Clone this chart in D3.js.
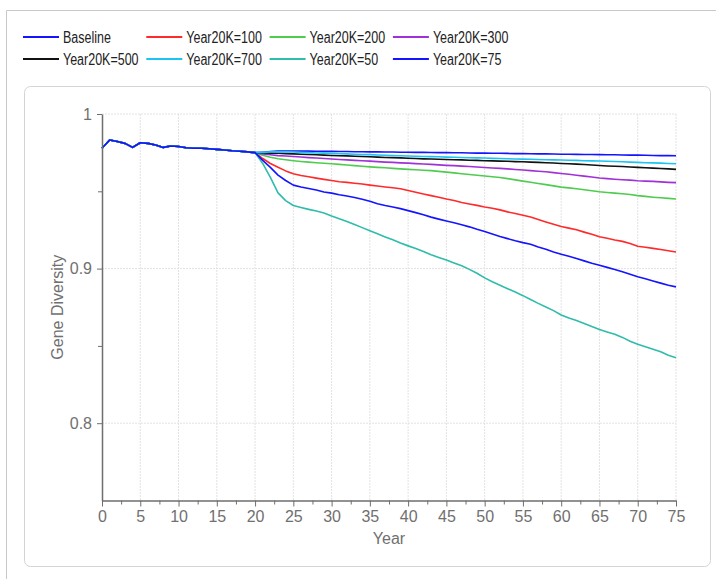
<!DOCTYPE html>
<html>
<head>
<meta charset="utf-8">
<script src="https://cdn.jsdelivr.net/npm/d3@7"></script>
<style>
  body { margin: 0; background: #fff; }
  svg { display: block; font-family: "Liberation Sans", Arial, sans-serif; }
</style>
</head>
<body>
<svg id="chart" width="716" height="579"></svg>
<script>
// years on the x axis
var years = [0,1,2,3,4,5,6,7,8,9,10,11,12,13,14,15,16,17,18,19,20,
  21,22,23,24,25,26,27,28,29,30,31,32,33,34,35,36,37,38,39,40,
  41,42,43,44,45,46,47,48,49,50,51,52,53,54,55,56,57,58,59,60,
  61,62,63,64,65,66,67,68,69,70,71,72,73,74,75];

// shared start, years 0..20
var sharedStart = [0.9778,0.9832,0.9822,0.9810,0.9784,0.9814,0.9810,0.9800,0.9784,0.9793,0.9790,
  0.9782,0.9778,0.9778,0.9775,0.9771,0.9767,0.9762,0.9759,0.9755,0.9750];

// years 21..75 per scenario
var baseline = [0.9753,0.9757,0.9760,0.9761,0.9761,0.9760,0.9760,0.9759,0.9758,0.9758,
  0.9757,0.9757,0.9756,0.9756,0.9755,0.9755,0.9754,0.9754,0.9753,0.9753,
  0.9752,0.9752,0.9751,0.9750,0.9750,0.9749,0.9749,0.9748,0.9747,0.9747,
  0.9746,0.9746,0.9745,0.9744,0.9744,0.9743,0.9742,0.9742,0.9741,0.9740,
  0.9740,0.9739,0.9738,0.9738,0.9737,0.9736,0.9736,0.9735,0.9734,0.9734,
  0.9733,0.9732,0.9731,0.9731,0.9730];
var k100 = [0.9712,0.9680,0.9655,0.9632,0.9614,0.9602,0.9594,0.9585,0.9577,0.9570,
  0.9562,0.9558,0.9552,0.9547,0.9540,0.9534,0.9528,0.9523,0.9517,0.9505,
  0.9494,0.9482,0.9472,0.9462,0.9450,0.9440,0.9428,0.9418,0.9409,0.9398,
  0.9390,0.9380,0.9367,0.9356,0.9345,0.9334,0.9318,0.9302,0.9287,0.9272,
  0.9262,0.9251,0.9236,0.9222,0.9206,0.9196,0.9185,0.9176,0.9163,0.9145,
  0.9138,0.9131,0.9124,0.9115,0.9107];
var k200 = [0.9733,0.9720,0.9711,0.9704,0.9698,0.9693,0.9689,0.9685,0.9681,0.9678,
  0.9674,0.9670,0.9666,0.9662,0.9658,0.9655,0.9652,0.9648,0.9645,0.9642,
  0.9639,0.9636,0.9634,0.9629,0.9624,0.9619,0.9614,0.9609,0.9604,0.9599,
  0.9594,0.9589,0.9582,0.9574,0.9566,0.9559,0.9551,0.9543,0.9535,0.9527,
  0.9522,0.9516,0.9510,0.9504,0.9497,0.9492,0.9488,0.9484,0.9479,0.9472,
  0.9467,0.9462,0.9458,0.9454,0.9450];
var k300 = [0.9742,0.9736,0.9731,0.9728,0.9725,0.9722,0.9718,0.9715,0.9712,0.9709,
  0.9706,0.9703,0.9700,0.9698,0.9695,0.9692,0.9689,0.9687,0.9684,0.9682,
  0.9679,0.9677,0.9674,0.9671,0.9668,0.9666,0.9663,0.9660,0.9657,0.9654,
  0.9651,0.9648,0.9645,0.9641,0.9638,0.9634,0.9630,0.9626,0.9621,0.9615,
  0.9610,0.9604,0.9598,0.9592,0.9586,0.9582,0.9578,0.9575,0.9572,0.9568,
  0.9566,0.9564,0.9561,0.9558,0.9556];
var k500 = [0.9748,0.9747,0.9746,0.9744,0.9742,0.9740,0.9738,0.9736,0.9734,0.9732,
  0.9730,0.9729,0.9727,0.9725,0.9723,0.9721,0.9719,0.9718,0.9716,0.9714,
  0.9712,0.9710,0.9709,0.9707,0.9706,0.9704,0.9703,0.9701,0.9700,0.9698,
  0.9697,0.9695,0.9694,0.9692,0.9691,0.9689,0.9687,0.9685,0.9683,0.9680,
  0.9678,0.9676,0.9673,0.9670,0.9667,0.9664,0.9662,0.9660,0.9657,0.9655,
  0.9652,0.9650,0.9647,0.9645,0.9642];
var k700 = [0.9752,0.9755,0.9756,0.9755,0.9754,0.9752,0.9750,0.9748,0.9747,0.9745,
  0.9743,0.9742,0.9740,0.9738,0.9737,0.9735,0.9733,0.9732,0.9730,0.9728,
  0.9727,0.9725,0.9724,0.9723,0.9721,0.9720,0.9719,0.9717,0.9716,0.9715,
  0.9713,0.9712,0.9711,0.9709,0.9708,0.9707,0.9706,0.9704,0.9703,0.9702,
  0.9701,0.9700,0.9698,0.9697,0.9696,0.9694,0.9693,0.9691,0.9689,0.9687,
  0.9685,0.9684,0.9682,0.9680,0.9678];
var k50 = [0.9680,0.9590,0.9490,0.9440,0.9408,0.9395,0.9383,0.9372,0.9360,0.9340,
  0.9322,0.9305,0.9285,0.9265,0.9245,0.9225,0.9205,0.9186,0.9165,0.9147,
  0.9130,0.9110,0.9090,0.9072,0.9055,0.9036,0.9018,0.8995,0.8970,0.8940,
  0.8915,0.8892,0.8870,0.8848,0.8825,0.8800,0.8775,0.8752,0.8728,0.8700,
  0.8680,0.8665,0.8645,0.8625,0.8606,0.8590,0.8575,0.8555,0.8530,0.8510,
  0.8495,0.8478,0.8462,0.8440,0.8423];
var k75 = [0.9700,0.9655,0.9605,0.9570,0.9540,0.9528,0.9518,0.9508,0.9495,0.9488,
  0.9478,0.9470,0.9460,0.9448,0.9435,0.9420,0.9408,0.9398,0.9388,0.9375,
  0.9362,0.9348,0.9333,0.9320,0.9308,0.9297,0.9284,0.9270,0.9254,0.9240,
  0.9224,0.9207,0.9194,0.9180,0.9168,0.9158,0.9140,0.9125,0.9108,0.9093,
  0.9080,0.9066,0.9050,0.9035,0.9022,0.9008,0.8994,0.8980,0.8964,0.8947,
  0.8934,0.8920,0.8906,0.8892,0.8882];

var seriesNames = ['Baseline','Year20K=100','Year20K=200','Year20K=300',
  'Year20K=500','Year20K=700','Year20K=50','Year20K=75'];
var seriesTails = [baseline, k100, k200, k300, k500, k700, k50, k75];
var colors = ['#1414ff','#ff2a2a','#4fcc4f','#a030d8','#111111','#1cc4f4','#2fbcaa','#1414ff'];

var xTicks = [0,5,10,15,20,25,30,35,40,45,50,55,60,65,70,75];
var yTicks = [0.8, 0.9, 1];
var yTickLabels = ['0.8', '0.9', '1'];

var svg = d3.select('#chart');

// outer page frame (top + left edge)
svg.append('path')
    .attr('d', 'M6.5,579 V10.5 H716')
    .attr('fill', 'none').attr('stroke', '#c8c8c8');

// chart panel
svg.append('rect')
    .attr('x', 24.5).attr('y', 86.5).attr('width', 686).attr('height', 480)
    .attr('rx', 6).attr('fill', '#fff').attr('stroke', '#d4d4d4');

var margin = {left: 102, right: 676, top: 114, bottom: 500.5};

var x = d3.scaleLinear().domain([0, 75]).range([margin.left, margin.right]);
var y = d3.scaleLinear().domain([0.75, 1]).range([margin.bottom, margin.top]);

// grid
var grid = svg.append('g');
grid.selectAll('.vg').data(xTicks.slice(1)).enter().append('line')
    .attr('x1', function(d) { return x(d); }).attr('x2', function(d) { return x(d); })
    .attr('y1', y(1)).attr('y2', margin.bottom)
    .attr('stroke', '#e2e2e2').attr('stroke-dasharray', '2,1');
grid.selectAll('.hg').data(yTicks).enter().append('line')
    .attr('x1', margin.left).attr('x2', margin.right)
    .attr('y1', function(d) { return y(d); }).attr('y2', function(d) { return y(d); })
    .attr('stroke', '#e2e2e2').attr('stroke-dasharray', '2,1');

// lines
var line = d3.line()
    .x(function(d) { return x(d[0]); })
    .y(function(d) { return y(d[1]); });

seriesNames.forEach(function(name, i) {
  var vals = sharedStart.concat(seriesTails[i]);
  var pts = years.map(function(yr, j) { return [yr, vals[j]]; });
  svg.append('path')
      .datum(pts)
      .attr('d', line)
      .attr('fill', 'none')
      .attr('stroke', colors[i])
      .attr('stroke-width', 1.6)
      .attr('stroke-linejoin', 'round');
});

// axes
var axisColor = '#6e6e6e';
var xAxis = svg.append('g')
    .attr('transform', 'translate(0,' + margin.bottom + ')')
    .call(d3.axisBottom(x).tickValues(xTicks).tickSize(6).tickSizeOuter(0));
var xMinor = svg.append('g')
    .attr('transform', 'translate(0,' + margin.bottom + ')')
    .call(d3.axisBottom(x).tickValues(d3.range(2.5, 75, 5)).tickSize(4).tickFormat('').tickSizeOuter(0));
xMinor.select('.domain').remove();

var yAxis = svg.append('g')
    .attr('transform', 'translate(' + margin.left + ',0)')
    .call(d3.axisLeft(y).tickValues(yTicks).tickSize(5).tickSizeOuter(0)
      .tickFormat(function(d, i) { return yTickLabels[i]; }));
var yMinor = svg.append('g')
    .attr('transform', 'translate(' + margin.left + ',0)')
    .call(d3.axisLeft(y).tickValues([0.85, 0.95]).tickSize(4).tickFormat('').tickSizeOuter(0));
yMinor.select('.domain').remove();

svg.selectAll('.domain').attr('stroke', axisColor).attr('stroke-width', 1.5);
svg.selectAll('.tick line').attr('stroke', axisColor);
svg.selectAll('.tick text')
    .attr('fill', '#707070')
    .style('font-size', '16px')
    .style('font-family', '"Liberation Sans", Arial, sans-serif');
xAxis.selectAll('.tick text').attr('dy', '0.71em').attr('y', 10);
yAxis.selectAll('.tick text').attr('x', -10);

// axis titles
svg.append('text')
    .attr('x', (margin.left + margin.right) / 2).attr('y', 544)
    .attr('text-anchor', 'middle').attr('fill', '#707070')
    .style('font-size', '16px').text('Year');
svg.append('text')
    .attr('transform', 'translate(63,' + ((margin.top + margin.bottom) / 2) + ') rotate(-90)')
    .attr('text-anchor', 'middle').attr('fill', '#707070')
    .style('font-size', '16px').text('Gene Diversity');

// legend, 4 per row
var legend = svg.append('g');
seriesNames.forEach(function(name, i) {
  var col = i % 4, row = Math.floor(i / 4);
  var lx = 23 + col * 123.3, ly = 37 + row * 22;
  legend.append('line')
      .attr('x1', lx).attr('x2', lx + 36)
      .attr('y1', ly).attr('y2', ly)
      .attr('stroke', colors[i]).attr('stroke-width', 2);
  var t = legend.append('text')
      .attr('x', lx + 40).attr('y', ly).attr('dy', '0.36em')
      .attr('fill', '#222')
      .style('font-size', '16px')
      .text(name);
  var w = t.node().getComputedTextLength();
  t.attr('textLength', w * 0.78).attr('lengthAdjust', 'spacingAndGlyphs');
});
</script>
</body>
</html>
